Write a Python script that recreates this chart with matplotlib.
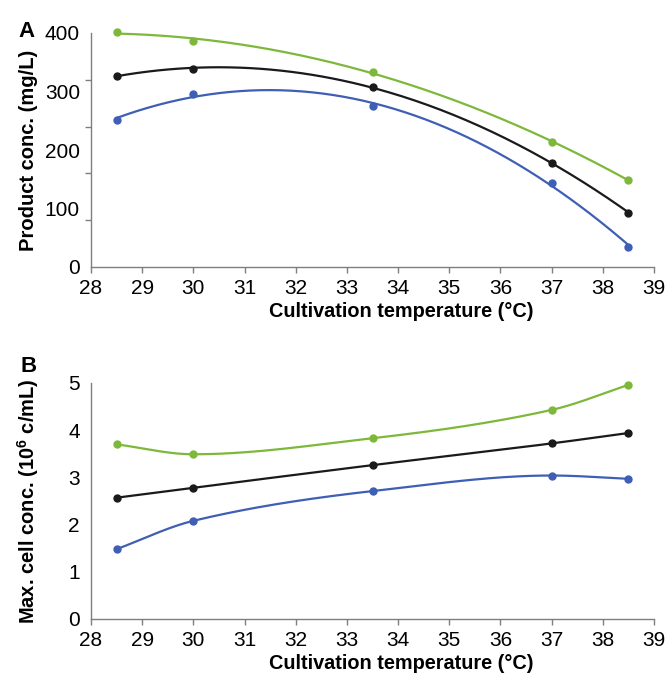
import numpy as np
import matplotlib
matplotlib.use("Agg")
import matplotlib.pyplot as plt
from matplotlib.ticker import FixedLocator

plt.rcParams['font.family'] = ['Liberation Sans', 'DejaVu Sans']
plt.rcParams['mathtext.fontset'] = 'custom'
plt.rcParams['mathtext.rm'] = 'Liberation Sans'
plt.rcParams['mathtext.bf'] = 'Liberation Sans:bold'

# ---- data ----
temps = [28.5, 30.0, 33.5, 37.0, 38.5]

prod_green = [401, 387, 334, 213, 149]
prod_black = [327, 339, 307, 178, 93]
prod_blue = [252, 296, 275, 144, 35]

cell_green = [3.70, 3.49, 3.83, 4.43, 4.96]
cell_black = [2.57, 2.78, 3.26, 3.72, 3.94]
cell_blue = [1.48, 2.08, 2.71, 3.04, 2.97]

x_ticks = list(range(28, 40))
prod_ticklabels = [0, 100, 200, 300, 400]
cell_ticklabels = [0, 1, 2, 3, 4, 5]

GREEN = '#7db83a'
BLACK = '#1a1a1a'
BLUE = '#3f5fb5'
SPINE = '#7f7f7f'


def pchip_curve(x, y, n=60):
    """Shape-preserving cubic Hermite curve through the points (rendering only)."""
    x = np.asarray(x, float)
    y = np.asarray(y, float)
    h = np.diff(x)
    d = np.diff(y) / h
    m = np.zeros_like(y)
    for k in range(1, len(x) - 1):
        if d[k - 1] * d[k] <= 0:
            m[k] = 0.0
        else:
            w1 = 2 * h[k] + h[k - 1]
            w2 = h[k] + 2 * h[k - 1]
            m[k] = (w1 + w2) / (w1 / d[k - 1] + w2 / d[k])
    m[0] = d[0]
    m[-1] = d[-1]
    xs, ys = [], []
    for k in range(len(x) - 1):
        t = np.linspace(0, 1, n)
        if k > 0:
            t = t[1:]
        h00 = 2 * t**3 - 3 * t**2 + 1
        h10 = t**3 - 2 * t**2 + t
        h01 = -2 * t**3 + 3 * t**2
        h11 = t**3 - t**2
        xs.append(x[k] + t * h[k])
        ys.append(h00 * y[k] + h10 * h[k] * m[k] + h01 * y[k + 1] + h11 * h[k] * m[k + 1])
    return np.concatenate(xs), np.concatenate(ys)


fig = plt.figure(figsize=(6.69, 6.73), dpi=100)
axA = fig.add_axes([91 / 669, 1 - 267 / 673, (654 - 91) / 669, (267 - 33) / 673])
axB = fig.add_axes([91 / 669, 1 - 619 / 673, (654 - 91) / 669, (619 - 383) / 673])


def style(ax, ymax, labels, nminor):
    for s in ['top', 'right']:
        ax.spines[s].set_visible(False)
    for s in ['left', 'bottom']:
        ax.spines[s].set_color(SPINE)
        ax.spines[s].set_linewidth(1.0)
    ax.set_xlim(28, 39)
    ax.set_ylim(0, ymax)
    ax.xaxis.set_major_locator(FixedLocator(x_ticks))
    ax.yaxis.set_major_locator(FixedLocator(labels))
    ax.yaxis.set_minor_locator(FixedLocator(np.linspace(0, ymax, nminor + 1)))
    ax.tick_params(axis='x', direction='out', length=4, width=1, color=SPINE,
                   labelsize=15, pad=5)
    ax.tick_params(axis='y', which='major', length=0, labelsize=15, pad=8)
    ax.tick_params(axis='y', which='minor', direction='out', length=4, width=1, color=SPINE)


style(axA, 400, prod_ticklabels, 5)
style(axB, 5, cell_ticklabels, 5)

xs = np.linspace(min(temps), max(temps), 200)
for vals, c in [(prod_green, GREEN), (prod_black, BLACK), (prod_blue, BLUE)]:
    coef = np.polyfit(temps, vals, 2)
    axA.plot(xs, np.polyval(coef, xs), color=c, lw=1.6, clip_on=False)
    axA.plot(temps, vals, 'o', color=c, ms=5, clip_on=False)

for vals, c in [(cell_green, GREEN), (cell_black, BLACK), (cell_blue, BLUE)]:
    sx, sy = pchip_curve(temps, vals)
    axB.plot(sx, sy, color=c, lw=1.6, clip_on=False)
    axB.plot(temps, vals, 'o', color=c, ms=5, clip_on=False)

for ax in (axA, axB):
    ax.set_xlabel('Cultivation temperature (°C)', fontsize=14.3, fontweight='bold',
                  labelpad=0)
    ax.xaxis.set_label_coords(0.551, -0.15)

axA.set_ylabel('Product conc. (mg/L)', fontsize=14.5, fontweight='bold')
axA.yaxis.set_label_coords(-0.094, 0.5)
axB.set_ylabel('Max. cell conc. (10$^{\\mathbf{6}}$ c/mL)', fontsize=14.5, fontweight='bold')
axB.yaxis.set_label_coords(-0.088, 0.5)

fig.text(18 / 669, 1 - 37 / 673, 'A', fontsize=16, fontweight='bold', ha='left', va='baseline')
fig.text(21 / 669, 1 - 372 / 673, 'B', fontsize=16, fontweight='bold', ha='left', va='baseline')

fig.savefig('out.png', dpi=100)
